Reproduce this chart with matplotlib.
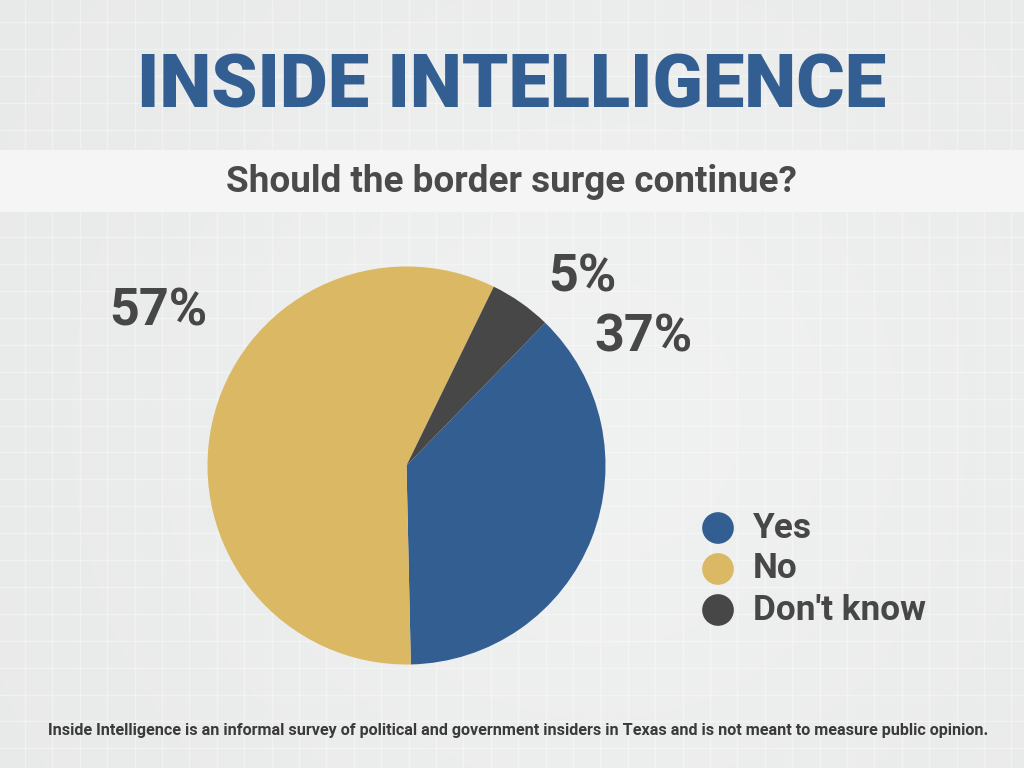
import matplotlib.pyplot as plt
from matplotlib.patches import Rectangle
import numpy as np

# data
labels = ["Yes", "No", "Don't know"]
values = [37, 57, 5]
colors = ["#335e91", "#dbb863", "#474747"]
label_text = ["37%", "57%", "5%"]

title = "INSIDE INTELLIGENCE"
question = "Should the border surge continue?"
footer = ("Inside Intelligence is an informal survey of political and government "
          "insiders in Texas and is not meant to measure public opinion.")

W, H = 1024, 768
fig = plt.figure(figsize=(10.24, 7.68), dpi=100)

# background with faint grid
bg = fig.add_axes([0, 0, 1, 1])
bg.set_xlim(0, W)
bg.set_ylim(H, 0)
bg.axis('off')
yy, xx = np.mgrid[0:H, 0:W]
shade = 0.915 + 0.03 * np.exp(-((xx - 600) ** 2 + (yy - 420) ** 2) / (2 * 320.0 ** 2))
bg.imshow(np.dstack([shade - 0.005, shade, shade - 0.002]), extent=[0, W, H, 0], aspect='auto')
for gx in np.arange(25, W, 27.4):
    bg.axvline(gx, color='white', lw=1.0, alpha=0.35)
for gy in np.arange(22, H, 26.9):
    bg.axhline(gy, color='white', lw=1.0, alpha=0.35)

# question band
bg.add_patch(Rectangle((0, 150), W, 62, facecolor='#f5f5f5', edgecolor='none', zorder=3))

bg.text(512, 107, title, ha='center', va='baseline', fontsize=53.3, fontweight='black',
        family='Roboto', color='#335e91', zorder=4)
bg.text(511, 182, question, ha='center', va='center', fontsize=26.6, fontweight='bold',
        family='Roboto', color='#4a4a4a', zorder=4)
bg.text(518, 731, footer, ha='center', va='center', fontsize=11.6, fontweight='bold',
        family='Roboto', color='#3a3a3a', zorder=4)

# pie
r = 199
cx, cy = 406.5, 465.5
pie_ax = fig.add_axes([(cx - r) / W, 1 - (cy + r) / H, 2 * r / W, 2 * r / H])
wedges, _ = pie_ax.pie(values, colors=colors, startangle=45.8, counterclock=False,
                       wedgeprops=dict(linewidth=0))
pie_ax.set_xlim(-1, 1)
pie_ax.set_ylim(-1, 1)
pie_ax.set_aspect('equal')

# percent labels
label_pos = [(643, 338), (158, 312), (582, 278)]
for txt, (tx, ty) in zip(label_text, label_pos):
    bg.text(tx, ty, txt, ha='center', va='center', fontsize=37.5, fontweight='bold',
            family='Roboto', color='#474747', zorder=4)

# legend
for i, (lab, col) in enumerate(zip(labels, colors)):
    y = 528 + i * 41
    bg.scatter([718], [y], s=520, color=col, zorder=5, edgecolors='none')
    bg.text(753, y, lab, ha='left', va='center', fontsize=25.3, fontweight='bold',
            family='Roboto', color='#474747', zorder=5)

fig.savefig('out.png', dpi=100)
